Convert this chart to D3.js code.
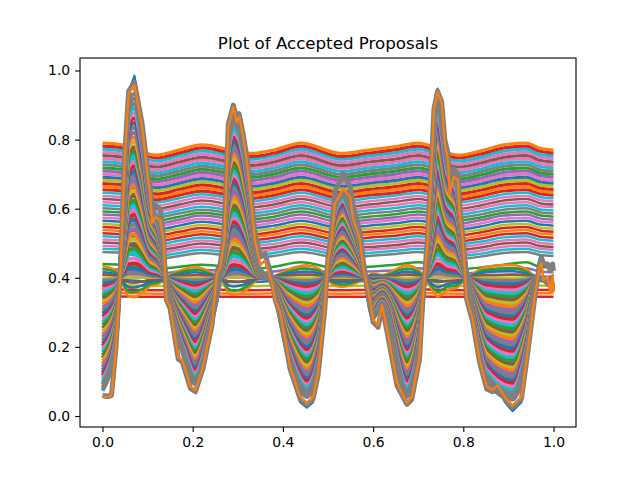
<!DOCTYPE html>
<html><head><meta charset="utf-8">
<script src="https://cdn.jsdelivr.net/npm/d3@7"></script>
<style>html,body{margin:0;padding:0;background:#fff}svg{display:block}text{font-family:"DejaVu Sans",sans-serif;fill:#000}</style>
</head><body><div id="chart"></div>
<script>
const title = "Plot of Accepted Proposals";
const xTicks = [0,0.2,0.4,0.6,0.8,1.0];
const yTicks = [0,0.2,0.4,0.6,0.8,1.0];
const tab10 = ["#1f77b4","#ff7f0e","#2ca02c","#d62728","#9467bd","#8c564b","#e377c2","#7f7f7f","#bcbd22","#17becf"];
const flatColors = ["#ff7f0e","#d62728","#17becf","#e377c2","#8c564b","#e377c2","#17becf","#7f7f7f","#2ca02c","#9467bd","#e377c2","#1f77b4","#bcbd22","#d62728"];
const fanLeadColors = ["#ff7f0e","#2ca02c","#1f77b4","#8c564b","#bcbd22"];

const xOutline = [0,.01,.02,.03,.04,.049,.058,.071,.088,.102,.106,.11,.117,.128,.135,.142,.15,.168,.177,.195,.206,.223,.243,.254,.261,.27,.279,.29,.298,.303,.312,.32,.338,.35,.36,.376,.383,.394,.416,.438,.453,.467,.478,.493,.5,.508,.515,.527,.533,.549,.555,.571,.578,.584,.593,.6,.611,.62,.631,.653,.675,.686,.703,.71,.715,.721,.73,.735,.743,.752,.759,.766,.77,.779,.788,.792,.799,.807,.821,.836,.852,.865,.876,.892,.909,.929,.943,.958,.969,.973,.978,.987,.993,.998,1];
const orangeLine = [.055,.055,.06,.2,.42,.74,.935,.958,.837,.674,.645,.558,.576,.567,.51,.336,.316,.17,.162,.085,.075,.142,.27,.414,.43,.51,.837,.894,.85,.866,.807,.74,.51,.437,.45,.385,.336,.3,.142,.055,.037,.055,.124,.316,.451,.51,.616,.64,.66,.634,.576,.51,.431,.394,.336,.278,.263,.321,.249,.095,.038,.055,.171,.336,.414,.51,.741,.886,.938,.906,.79,.741,.645,.692,.683,.587,.51,.344,.278,.162,.084,.075,.09,.055,.029,.055,.19,.342,.431,.443,.394,.402,.356,.408,.36];
const blueLine = [.055,.052,.055,.195,.42,.74,.94,.985,.84,.674,.645,.558,.576,.567,.51,.336,.31,.165,.155,.08,.07,.138,.265,.414,.43,.51,.84,.9,.855,.87,.81,.74,.51,.437,.45,.385,.33,.295,.135,.04,.024,.04,.118,.31,.451,.51,.62,.645,.665,.64,.58,.51,.431,.394,.33,.272,.258,.315,.243,.085,.03,.042,.165,.33,.414,.51,.745,.89,.948,.91,.79,.741,.645,.692,.683,.587,.51,.34,.272,.156,.078,.07,.085,.04,.014,.04,.182,.34,.431,.443,.394,.402,.356,.408,.36];
const grayLine = [.06,.057,.06,.2,.43,.75,.94,.965,.845,.69,.66,.6,.61,.6,.52,.335,.31,.165,.156,.08,.07,.138,.265,.42,.44,.52,.845,.9,.86,.875,.815,.75,.53,.46,.47,.4,.335,.295,.136,.05,.033,.05,.118,.31,.46,.525,.65,.68,.702,.665,.615,.53,.45,.4,.33,.272,.257,.315,.243,.088,.034,.05,.165,.33,.42,.52,.75,.89,.94,.91,.8,.76,.68,.715,.7,.61,.52,.34,.272,.156,.078,.07,.085,.05,.025,.05,.184,.338,.44,.46,.44,.44,.42,.44,.42];

const xFlat = [0,.04,.12,.17,.22,.33,.38,.44,.53,.59,.65,.70,.79,.84,.89,.94,.97,1];
const flatLines = [
[.790,.786,.755,.770,.785,.760,.770,.790,.760,.770,.780,.790,.755,.768,.785,.790,.775,.770],
[.781,.777,.747,.761,.776,.751,.761,.781,.751,.761,.771,.781,.747,.759,.776,.781,.766,.761],
[.772,.768,.738,.753,.767,.743,.753,.772,.743,.753,.762,.772,.738,.750,.767,.772,.757,.753],
[.763,.759,.729,.744,.758,.734,.744,.763,.734,.744,.753,.763,.729,.742,.758,.763,.749,.744],
[.754,.750,.721,.735,.749,.725,.735,.754,.725,.735,.744,.754,.721,.733,.749,.754,.740,.735],
[.745,.741,.712,.726,.741,.717,.726,.745,.717,.726,.735,.745,.712,.724,.741,.745,.731,.726],
[.736,.732,.704,.718,.732,.708,.718,.736,.708,.718,.726,.736,.704,.715,.732,.736,.722,.718],
[.727,.723,.695,.709,.723,.699,.709,.727,.699,.709,.718,.727,.695,.707,.723,.727,.713,.709],
[.718,.714,.686,.700,.714,.691,.700,.718,.691,.700,.709,.718,.686,.698,.714,.718,.704,.700],
[.709,.705,.678,.691,.705,.682,.691,.709,.682,.691,.700,.709,.678,.689,.705,.709,.696,.691],
[.700,.696,.669,.682,.696,.673,.682,.700,.673,.682,.691,.700,.669,.680,.696,.700,.687,.682],
[.691,.688,.661,.674,.687,.665,.674,.691,.665,.674,.682,.691,.661,.672,.687,.691,.678,.674],
[.682,.679,.652,.665,.678,.656,.665,.682,.656,.665,.673,.682,.652,.663,.678,.682,.669,.665],
[.673,.670,.643,.656,.669,.647,.656,.673,.647,.656,.664,.673,.643,.654,.669,.673,.660,.656],
[.664,.661,.635,.647,.660,.639,.647,.664,.639,.647,.655,.664,.635,.645,.660,.664,.651,.647],
[.655,.652,.626,.639,.651,.630,.639,.655,.630,.639,.646,.655,.626,.637,.651,.655,.643,.639],
[.646,.643,.618,.630,.642,.621,.630,.646,.621,.630,.638,.646,.618,.628,.642,.646,.634,.630],
[.637,.634,.609,.621,.633,.613,.621,.637,.613,.621,.629,.637,.609,.619,.633,.637,.625,.621],
[.628,.625,.600,.612,.624,.604,.612,.628,.604,.612,.620,.628,.600,.610,.624,.628,.616,.612],
[.619,.616,.592,.604,.615,.595,.604,.619,.595,.604,.611,.619,.592,.602,.615,.619,.607,.604],
[.610,.607,.583,.595,.606,.587,.595,.610,.587,.595,.602,.610,.583,.593,.606,.610,.598,.595],
[.601,.598,.575,.586,.597,.578,.586,.601,.578,.586,.593,.601,.575,.584,.597,.601,.590,.586],
[.592,.589,.566,.577,.588,.570,.577,.592,.570,.577,.584,.592,.566,.575,.588,.592,.581,.577],
[.583,.580,.557,.568,.580,.561,.568,.583,.561,.568,.575,.583,.557,.567,.580,.583,.572,.568],
[.574,.571,.549,.560,.571,.552,.560,.574,.552,.560,.567,.574,.549,.558,.571,.574,.563,.560],
[.565,.562,.540,.551,.562,.544,.551,.565,.544,.551,.558,.565,.540,.549,.562,.565,.554,.551],
[.556,.553,.532,.542,.553,.535,.542,.556,.535,.542,.549,.556,.532,.540,.553,.556,.545,.542],
[.547,.544,.523,.533,.544,.526,.533,.547,.526,.533,.540,.547,.523,.532,.544,.547,.537,.533],
[.538,.535,.514,.525,.535,.518,.525,.538,.518,.525,.531,.538,.514,.523,.535,.538,.528,.525],
[.529,.526,.506,.516,.526,.509,.516,.529,.509,.516,.522,.529,.506,.514,.526,.529,.519,.516],
[.520,.517,.497,.507,.517,.500,.507,.520,.500,.507,.513,.520,.497,.505,.517,.520,.510,.507],
[.511,.508,.489,.498,.508,.492,.498,.511,.492,.498,.504,.511,.489,.497,.508,.511,.501,.498],
[.502,.499,.480,.489,.499,.483,.489,.502,.483,.489,.495,.502,.480,.488,.499,.502,.492,.489],
[.493,.490,.471,.481,.490,.474,.481,.493,.474,.481,.487,.493,.471,.479,.490,.493,.484,.481],
[.484,.482,.463,.472,.481,.466,.472,.484,.466,.472,.478,.484,.463,.470,.481,.484,.475,.472],
[.475,.473,.454,.463,.472,.457,.463,.475,.457,.463,.469,.475,.454,.462,.472,.475,.466,.463],
[.440,.438,.425,.432,.438,.425,.432,.445,.425,.432,.438,.445,.425,.430,.438,.445,.432,.430],
[.425,.424,.412,.418,.423,.412,.418,.428,.412,.418,.422,.428,.412,.416,.423,.428,.418,.416],
[.410,.409,.400,.405,.408,.400,.405,.412,.400,.405,.408,.412,.400,.403,.408,.412,.405,.403],
[.395,.394,.388,.391,.393,.388,.391,.396,.388,.391,.393,.396,.388,.390,.393,.396,.391,.390],
[.380,.379,.376,.378,.379,.376,.378,.381,.376,.378,.379,.381,.376,.377,.379,.381,.378,.377],
[.367,.366,.364,.365,.366,.364,.365,.367,.364,.365,.366,.367,.364,.365,.366,.367,.365,.365],
[.356,.356,.354,.355,.355,.354,.355,.356,.354,.355,.355,.356,.354,.355,.355,.356,.355,.355],
[.346,.346,.345,.345,.346,.345,.345,.346,.345,.345,.346,.346,.345,.345,.346,.346,.345,.345]
];

const xFan = [0,.03,.045,.058,.07,.088,.105,.125,.15,.18,.205,.24,.265,.28,.29,.303,.32,.345,.375,.41,.453,.48,.5,.515,.533,.552,.575,.6,.62,.675,.7,.72,.743,.765,.785,.8,.825,.85,.91,.94,.965,1];
const fanLines = [
[.434,.42,.38,.346,.344,.356,.376,.384,.408,.424,.432,.415,.394,.356,.351,.353,.366,.396,.402,.423,.436,.426,.395,.378,.374,.38,.393,.412,.408,.436,.423,.39,.346,.365,.371,.39,.415,.431,.437,.424,.4,.404],
[.426,.415,.385,.36,.358,.367,.382,.388,.406,.418,.424,.411,.396,.367,.363,.365,.375,.397,.401,.417,.427,.42,.396,.384,.38,.385,.395,.409,.406,.427,.417,.393,.36,.374,.378,.393,.411,.423,.428,.418,.4,.403],
[.417,.41,.39,.373,.372,.378,.388,.392,.404,.412,.416,.408,.397,.378,.375,.377,.383,.398,.401,.412,.418,.413,.397,.389,.387,.39,.396,.406,.404,.418,.412,.395,.373,.382,.385,.395,.408,.416,.419,.412,.4,.402],
[.409,.405,.395,.387,.386,.389,.394,.396,.402,.406,.408,.404,.399,.389,.388,.388,.392,.399,.4,.406,.409,.407,.399,.395,.394,.395,.398,.403,.402,.409,.406,.398,.387,.391,.393,.398,.404,.408,.409,.406,.4,.401],
[.4,.4,.4,.4,.4,.4,.4,.4,.4,.4,.4,.4,.4,.4,.4,.4,.4,.4,.4,.4,.4,.4,.4,.4,.4,.4,.4,.4,.4,.4,.4,.4,.4,.4,.4,.4,.4,.4,.4,.4,.4,.4],
[.391,.395,.405,.413,.414,.411,.406,.404,.398,.394,.392,.396,.402,.411,.412,.412,.409,.401,.4,.394,.391,.394,.401,.405,.407,.405,.402,.397,.398,.391,.394,.403,.414,.409,.407,.403,.396,.392,.391,.394,.4,.399],
[.383,.39,.41,.427,.428,.422,.412,.408,.396,.388,.384,.392,.403,.422,.425,.423,.417,.402,.399,.388,.382,.387,.403,.411,.413,.41,.404,.394,.396,.382,.388,.405,.427,.418,.415,.405,.392,.384,.381,.388,.4,.398],
[.374,.385,.415,.44,.442,.433,.418,.412,.394,.382,.376,.389,.405,.433,.437,.435,.426,.403,.399,.383,.373,.38,.404,.416,.42,.415,.405,.391,.394,.373,.383,.408,.44,.426,.422,.408,.389,.377,.372,.382,.4,.397],
[.366,.38,.42,.454,.456,.444,.424,.416,.392,.376,.368,.385,.406,.444,.449,.447,.434,.404,.398,.377,.364,.374,.405,.422,.426,.42,.407,.388,.392,.364,.377,.41,.454,.435,.429,.41,.385,.369,.363,.376,.4,.396],
[.357,.375,.425,.467,.47,.455,.43,.42,.39,.37,.36,.381,.408,.455,.462,.459,.443,.405,.398,.371,.355,.368,.407,.427,.433,.425,.409,.385,.39,.355,.371,.413,.468,.444,.437,.413,.381,.361,.354,.37,.4,.395],
[.348,.37,.43,.48,.484,.465,.437,.424,.387,.364,.351,.377,.409,.465,.474,.47,.451,.406,.398,.365,.345,.361,.408,.432,.439,.43,.411,.381,.388,.345,.365,.415,.481,.453,.444,.415,.377,.353,.344,.364,.4,.394],
[.34,.365,.435,.494,.498,.476,.443,.428,.385,.358,.343,.374,.411,.476,.486,.482,.46,.407,.397,.359,.336,.354,.409,.438,.446,.435,.413,.378,.386,.336,.359,.418,.495,.462,.451,.418,.374,.345,.335,.358,.4,.393],
[.331,.36,.44,.507,.512,.487,.449,.432,.383,.352,.335,.37,.412,.487,.499,.494,.468,.408,.397,.354,.327,.348,.41,.443,.452,.44,.414,.375,.384,.327,.354,.42,.508,.47,.458,.42,.37,.338,.326,.352,.4,.392],
[.323,.355,.445,.521,.526,.498,.455,.436,.381,.346,.327,.366,.414,.498,.511,.505,.477,.409,.396,.348,.318,.341,.412,.449,.459,.445,.416,.372,.382,.318,.348,.423,.522,.479,.466,.423,.366,.33,.316,.346,.4,.391],
[.314,.35,.45,.534,.54,.509,.461,.44,.379,.34,.319,.362,.415,.509,.524,.517,.485,.41,.396,.342,.309,.335,.413,.454,.465,.45,.418,.369,.38,.309,.342,.425,.535,.488,.473,.425,.362,.322,.307,.34,.4,.39],
[.305,.345,.455,.547,.554,.52,.467,.444,.377,.334,.311,.358,.417,.52,.536,.529,.494,.411,.396,.336,.3,.328,.414,.459,.471,.455,.42,.366,.378,.3,.336,.428,.549,.497,.48,.428,.358,.314,.298,.334,.4,.389],
[.297,.34,.46,.561,.568,.531,.473,.448,.375,.328,.303,.354,.418,.531,.549,.54,.502,.412,.395,.33,.291,.322,.416,.465,.478,.46,.422,.363,.376,.291,.33,.43,.562,.506,.488,.43,.354,.306,.288,.328,.4,.388],
[.288,.335,.465,.574,.582,.542,.479,.452,.373,.322,.295,.351,.42,.542,.561,.552,.511,.413,.395,.325,.282,.315,.417,.47,.485,.465,.423,.36,.374,.282,.325,.433,.576,.514,.495,.433,.351,.299,.279,.322,.4,.387],
[.279,.33,.47,.588,.596,.553,.485,.456,.37,.316,.286,.347,.421,.553,.573,.564,.519,.414,.394,.319,.273,.309,.418,.476,.491,.47,.425,.356,.372,.273,.319,.435,.589,.523,.502,.435,.347,.291,.27,.316,.4,.386],
[.271,.325,.475,.601,.61,.564,.492,.46,.368,.31,.278,.343,.423,.564,.586,.576,.528,.415,.394,.313,.264,.303,.42,.481,.498,.475,.427,.353,.37,.264,.313,.438,.603,.532,.51,.438,.343,.283,.261,.31,.4,.385],
[.263,.32,.48,.614,.624,.575,.498,.464,.366,.304,.27,.34,.424,.575,.598,.587,.536,.416,.394,.308,.255,.296,.421,.486,.504,.48,.428,.351,.368,.255,.308,.44,.616,.54,.517,.44,.34,.276,.252,.304,.4,.384],
[.254,.315,.485,.628,.638,.585,.504,.468,.364,.298,.262,.336,.426,.585,.61,.599,.545,.417,.393,.302,.246,.29,.422,.492,.511,.485,.43,.348,.366,.246,.302,.443,.63,.55,.525,.443,.336,.268,.242,.298,.4,.383],
[.245,.31,.49,.641,.652,.596,.51,.472,.362,.292,.254,.332,.427,.596,.622,.611,.553,.418,.393,.296,.237,.283,.424,.497,.517,.49,.432,.345,.364,.237,.296,.445,.643,.558,.532,.445,.332,.26,.233,.292,.4,.382],
[.236,.305,.495,.655,.666,.607,.516,.476,.36,.286,.246,.328,.429,.607,.635,.622,.562,.419,.392,.29,.228,.277,.425,.503,.524,.495,.434,.342,.362,.228,.29,.448,.657,.567,.54,.448,.328,.252,.224,.286,.4,.381],
[.228,.3,.5,.668,.68,.618,.522,.48,.358,.28,.238,.325,.43,.618,.647,.634,.57,.42,.392,.285,.219,.27,.426,.508,.53,.5,.436,.339,.36,.219,.285,.45,.67,.576,.547,.45,.325,.245,.214,.28,.4,.38],
[.219,.295,.505,.681,.694,.629,.528,.484,.356,.274,.23,.321,.432,.629,.659,.646,.579,.421,.391,.279,.21,.264,.428,.514,.537,.505,.437,.336,.358,.21,.279,.453,.684,.585,.554,.453,.321,.237,.205,.274,.4,.379],
[.21,.29,.51,.695,.708,.64,.534,.488,.354,.268,.222,.317,.433,.64,.672,.657,.587,.422,.391,.273,.2,.257,.429,.519,.543,.51,.439,.333,.356,.2,.273,.455,.697,.594,.562,.455,.317,.229,.196,.268,.4,.378],
[.202,.285,.515,.708,.722,.651,.54,.492,.352,.262,.214,.313,.435,.651,.684,.669,.596,.423,.39,.267,.191,.251,.43,.524,.55,.515,.441,.329,.354,.191,.267,.458,.711,.603,.569,.458,.313,.221,.186,.262,.4,.377],
[.193,.28,.52,.722,.736,.662,.546,.496,.35,.256,.205,.31,.436,.662,.696,.681,.604,.424,.39,.262,.182,.244,.431,.53,.556,.52,.443,.326,.352,.182,.262,.46,.724,.612,.576,.46,.31,.214,.177,.256,.4,.376],
[.185,.275,.525,.735,.75,.672,.553,.5,.348,.25,.197,.306,.438,.672,.708,.693,.613,.425,.39,.256,.173,.238,.433,.535,.563,.525,.445,.323,.35,.173,.256,.463,.738,.62,.584,.463,.306,.206,.168,.25,.4,.375],
[.176,.27,.53,.749,.764,.683,.559,.504,.346,.244,.189,.302,.439,.683,.72,.704,.621,.426,.389,.25,.164,.231,.434,.54,.569,.53,.446,.32,.348,.164,.25,.465,.751,.629,.591,.465,.302,.198,.159,.244,.4,.374],
[.167,.265,.535,.762,.778,.694,.565,.508,.344,.238,.181,.298,.441,.694,.733,.716,.63,.427,.389,.244,.155,.225,.436,.546,.576,.535,.448,.317,.346,.155,.244,.468,.765,.638,.598,.468,.298,.19,.149,.238,.4,.373],
[.159,.26,.54,.775,.792,.705,.571,.512,.342,.232,.173,.294,.442,.705,.745,.728,.638,.428,.388,.239,.146,.218,.437,.551,.582,.54,.45,.314,.344,.146,.239,.47,.778,.647,.606,.47,.294,.183,.14,.232,.4,.372],
[.15,.255,.545,.789,.806,.716,.577,.516,.339,.226,.165,.291,.444,.716,.757,.74,.647,.429,.388,.233,.136,.212,.438,.557,.589,.545,.452,.31,.342,.136,.233,.473,.792,.655,.613,.473,.291,.175,.131,.226,.4,.371],
[.141,.25,.55,.802,.82,.727,.583,.52,.337,.22,.157,.287,.445,.727,.77,.751,.655,.43,.387,.227,.127,.205,.439,.562,.595,.55,.454,.307,.34,.127,.227,.475,.805,.664,.62,.475,.287,.167,.122,.22,.4,.37],
[.133,.245,.555,.815,.834,.738,.589,.524,.335,.214,.149,.283,.447,.738,.782,.763,.664,.431,.387,.221,.118,.199,.441,.567,.602,.555,.455,.304,.338,.118,.221,.478,.819,.673,.628,.478,.283,.159,.113,.214,.4,.369],
[.124,.24,.56,.829,.848,.749,.595,.528,.333,.208,.14,.279,.448,.749,.794,.775,.672,.432,.386,.216,.109,.192,.442,.573,.608,.56,.457,.301,.336,.109,.216,.48,.832,.682,.635,.48,.279,.152,.103,.208,.4,.368],
[.116,.235,.565,.842,.862,.76,.601,.532,.331,.202,.132,.276,.45,.76,.807,.786,.68,.433,.386,.21,.1,.186,.443,.578,.615,.565,.459,.298,.334,.1,.21,.483,.846,.691,.643,.483,.276,.144,.094,.202,.4,.367],
[.107,.23,.57,.856,.876,.771,.607,.536,.329,.196,.124,.272,.451,.771,.819,.798,.689,.434,.385,.204,.091,.179,.444,.584,.622,.57,.461,.295,.332,.091,.204,.485,.86,.699,.65,.485,.272,.136,.085,.196,.4,.366],
[.098,.225,.575,.869,.89,.782,.613,.54,.327,.19,.116,.268,.453,.782,.831,.81,.697,.435,.385,.198,.082,.173,.446,.589,.628,.575,.463,.292,.33,.082,.198,.488,.873,.708,.658,.488,.268,.128,.075,.19,.4,.365],
[.09,.22,.58,.882,.904,.793,.619,.544,.325,.184,.108,.264,.454,.793,.844,.822,.706,.436,.384,.193,.073,.166,.447,.594,.635,.58,.464,.289,.328,.073,.193,.49,.887,.717,.665,.49,.264,.12,.066,.184,.4,.364],
[.082,.215,.585,.895,.918,.804,.625,.548,.323,.178,.1,.26,.456,.804,.856,.833,.714,.437,.384,.187,.064,.16,.449,.6,.641,.585,.466,.286,.326,.064,.187,.493,.9,.726,.673,.493,.26,.112,.057,.178,.4,.363],
[.073,.21,.59,.909,.932,.815,.631,.552,.321,.172,.092,.256,.457,.815,.868,.845,.723,.438,.384,.181,.055,.153,.45,.605,.648,.59,.468,.283,.324,.055,.181,.498,.914,.735,.68,.498,.256,.104,.048,.172,.4,.362]
];

const width = 640, height = 480;
const margin = {left:80, right:576, top:58, bottom:427};
const xScale = d3.scaleLinear().domain([0,1]).range([102.5,553.5]);
const yScale = d3.scaleLinear().domain([0,1]).range([416,70.5]);
const svg = d3.select("#chart").append("svg").attr("width",width).attr("height",height);

function drawSeries(xs, ys, color, w, curve){
  const gen = d3.line().x((d,i)=>xScale(xs[i])).y(d=>yScale(d)).curve(curve);
  svg.append("path").attr("d",gen(ys)).attr("fill","none").attr("stroke",color).attr("stroke-width",w).attr("stroke-linejoin","round");
}
drawSeries(xOutline, blueLine, tab10[0], 2.1, d3.curveLinear);
flatLines.slice().reverse().forEach((ys,i)=>{
  const idx = flatLines.length-1-i;
  drawSeries(xFlat, ys, flatColors[idx%flatColors.length], idx<16 ? 3.1 : 2.5, d3.curveMonotoneX);
});
fanLines.forEach((ys,i)=>{
  const lead = i < fanLeadColors.length;
  const color = lead ? fanLeadColors[i] : (i >= fanLines.length-3 ? tab10[7] : tab10[(i*3+2)%10]);
  drawSeries(xFan, ys, color, lead ? 2.6 : 4, d3.curveMonotoneX);
});
drawSeries(xOutline, grayLine, tab10[7], 5, d3.curveLinear);
drawSeries(xOutline, orangeLine, tab10[1], 2.2, d3.curveLinear);

const xAxis = d3.axisBottom(xScale).tickValues(xTicks).tickFormat(d3.format(".1f")).tickSizeOuter(0).tickSize(4.9).tickPadding(4.9);
const yAxis = d3.axisLeft(yScale).tickValues(yTicks).tickFormat(d3.format(".1f")).tickSizeOuter(0).tickSize(4.9).tickPadding(4.9);
const gx = svg.append("g").attr("transform",`translate(0,${margin.bottom})`).call(xAxis);
const gy = svg.append("g").attr("transform",`translate(${margin.left},0)`).call(yAxis);
[gx,gy].forEach(g=>{
  g.select(".domain").remove();
  g.selectAll("line").attr("stroke","#000").attr("stroke-width",1.1);
  g.selectAll("text").style("font-size","13.9px").style("font-family",'"DejaVu Sans",sans-serif').attr("fill","#000");
});
svg.append("rect").attr("x",margin.left).attr("y",margin.top).attr("width",margin.right-margin.left).attr("height",margin.bottom-margin.top)
  .attr("fill","none").attr("stroke","#000").attr("stroke-width",1.1);
svg.append("text").attr("x",328).attr("y",49).attr("text-anchor","middle").style("font-size","16.67px").text(title);
</script></body></html>
